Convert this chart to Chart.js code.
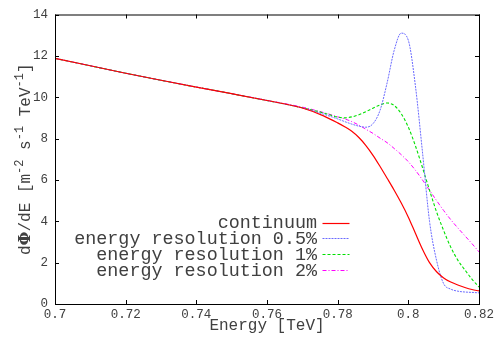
<!DOCTYPE html>
<html>
<head>
<meta charset="utf-8">
<script src="https://cdn.jsdelivr.net/npm/chart.js@4"></script>
<style>
  html, body { margin: 0; padding: 0; background: #fff; }
  #wrap { width: 501px; height: 341px; }
</style>
</head>
<body>
<div id="wrap"><canvas id="spectrum" width="501" height="341"></canvas></div>
<script>
// energy grid (TeV) and curves
const energy = [0.700, 0.710, 0.720, 0.730, 0.740, 0.750, 0.760, 0.770, 0.776, 0.780,
  0.782, 0.784, 0.786, 0.788, 0.790, 0.792, 0.794, 0.796, 0.798, 0.800,
  0.802, 0.804, 0.806, 0.808, 0.810, 0.812, 0.814, 0.816, 0.818, 0.820];

const continuum = [11.88, 11.52, 11.16, 10.82, 10.49, 10.17, 9.84, 9.48, 9.10, 8.76,
  8.57, 8.35, 8.05, 7.66, 7.19, 6.65, 6.08, 5.50, 4.88, 4.20,
  3.42, 2.65, 2.00, 1.56, 1.26, 1.06, 0.92, 0.80, 0.70, 0.63];

const res05 = [11.88, 11.52, 11.16, 10.82, 10.49, 10.17, 9.84, 9.48, 9.18, 8.95,
  8.82, 8.70, 8.60, 8.55, 8.72, 9.37, 10.70, 12.27, 13.10, 12.75,
  10.55, 7.35, 4.00, 2.10, 0.98, 0.72, 0.62, 0.58, 0.56, 0.54];

const res1 = [11.88, 11.52, 11.16, 10.82, 10.49, 10.17, 9.84, 9.49, 9.24, 9.04,
  9.00, 9.05, 9.15, 9.30, 9.47, 9.63, 9.72, 9.60, 9.20, 8.55,
  7.65, 6.60, 5.50, 4.45, 3.55, 2.75, 2.12, 1.65, 1.20, 0.82];

const res2 = [11.88, 11.52, 11.16, 10.82, 10.49, 10.17, 9.85, 9.52, 9.26, 9.05,
  8.95, 8.82, 8.65, 8.45, 8.25, 8.02, 7.80, 7.52, 7.22, 6.88,
  6.47, 6.00, 5.50, 5.00, 4.52, 4.08, 3.68, 3.30, 2.92, 2.52];

const xTicks = [0.7, 0.72, 0.74, 0.76, 0.78, 0.8, 0.82];
const yTicks = [0, 2, 4, 6, 8, 10, 12, 14];

const seriesNames = ["continuum", "energy resolution 0.5%", "energy resolution 1%", "energy resolution 2%"];

const mono = "'Liberation Mono', 'DejaVu Sans Mono', monospace";
const textColor = "#404040";

function pts(vals) {
  return energy.map((e, i) => ({ x: e, y: vals[i] }));
}

// gnuplot style frame with inward ticks on all sides
const framePlugin = {
  id: "frame",
  afterDraw(chart) {
    const { ctx, chartArea: a, scales } = chart;
    ctx.save();
    ctx.strokeStyle = "#000";
    ctx.lineWidth = 1;
    ctx.strokeRect(a.left + 0.5, a.top + 0.5, a.right - a.left, a.bottom - a.top);
    ctx.beginPath();
    const len = 4;
    xTicks.forEach(t => {
      const px = Math.round(scales.x.getPixelForValue(t)) + 0.5;
      ctx.moveTo(px, a.bottom); ctx.lineTo(px, a.bottom - len);
      ctx.moveTo(px, a.top); ctx.lineTo(px, a.top + len);
    });
    yTicks.forEach(t => {
      const py = Math.round(scales.y.getPixelForValue(t)) + 0.5;
      ctx.moveTo(a.left, py); ctx.lineTo(a.left + len, py);
      ctx.moveTo(a.right, py); ctx.lineTo(a.right - len, py);
    });
    ctx.stroke();
    ctx.restore();
  }
};

// axis titles (the y one needs superscripts)
const titlePlugin = {
  id: "titles",
  afterDraw(chart) {
    const { ctx, chartArea: a } = chart;
    ctx.save();
    ctx.fillStyle = textColor;
    ctx.font = "16px " + mono;
    ctx.textAlign = "center";
    ctx.textBaseline = "middle";
    ctx.fillText("Energy [TeV]", (a.left + a.right) / 2, 326);

    const parts = [
      ["d", 0], ["\u03A6", 0, true], ["/dE [m", 0], ["-2", 1], [" s", 0], ["-1", 1], [" TeV", 0], ["-1", 1], ["]", 0]
    ];
    const base = "16px " + mono, sup = "12px " + mono, bold = "bold 16px 'DejaVu Serif', serif";
    let total = 0;
    parts.forEach(p => {
      ctx.font = p[2] ? bold : (p[1] ? sup : base);
      total += ctx.measureText(p[0]).width;
    });
    ctx.translate(25, (a.top + a.bottom) / 2);
    ctx.rotate(-Math.PI / 2);
    ctx.textAlign = "left";
    ctx.textBaseline = "alphabetic";
    let x = -total / 2;
    parts.forEach(p => {
      ctx.font = p[2] ? bold : (p[1] ? sup : base);
      ctx.fillText(p[0], x, p[1] ? -2 : 5);
      x += ctx.measureText(p[0]).width;
    });
    ctx.restore();
  }
};

// legend: right aligned text with line sample on the right
const keyPlugin = {
  id: "key",
  afterDraw(chart) {
    const { ctx } = chart;
    const rows = [222.5, 238.3, 254.3, 270];
    ctx.save();
    ctx.font = "18.4px " + mono;
    ctx.textAlign = "right";
    ctx.textBaseline = "middle";
    chart.data.datasets.forEach((ds, i) => {
      const y = rows[i];
      ctx.fillStyle = textColor;
      ctx.fillText(ds.label, 317, y + 1);
      ctx.strokeStyle = ds.borderColor;
      ctx.lineWidth = ds.borderWidth;
      ctx.setLineDash(ds.borderDash || []);
      ctx.beginPath();
      ctx.moveTo(322.5, Math.round(y) + 0.5);
      ctx.lineTo(349.5, Math.round(y) + 0.5);
      ctx.stroke();
    });
    ctx.restore();
  }
};

const lineStyle = { fill: false, pointRadius: 0, cubicInterpolationMode: "monotone" };

new Chart(document.getElementById("spectrum"), {
  type: "line",
  data: {
    datasets: [
      { ...lineStyle, label: seriesNames[0], data: pts(continuum), borderColor: "#ff0000", borderWidth: 1.2 },
      { ...lineStyle, label: seriesNames[1], data: pts(res05), borderColor: "#6a6aff", borderWidth: 1, borderDash: [2, 1] },
      { ...lineStyle, label: seriesNames[2], data: pts(res1), borderColor: "#00e000", borderWidth: 1.1, borderDash: [3, 2] },
      { ...lineStyle, label: seriesNames[3], data: pts(res2), borderColor: "#ff00ff", borderWidth: 1, borderDash: [4, 2, 1, 2] }
    ]
  },
  options: {
    responsive: false,
    animation: false,
    layout: { padding: { left: 0, top: 8, right: 22, bottom: 0 } },
    plugins: { legend: { display: false }, tooltip: { enabled: false } },
    scales: {
      x: {
        type: "linear",
        min: 0.7, max: 0.82,
        afterBuildTicks: s => { s.ticks = xTicks.map(v => ({ value: v })); },
        afterFit: s => { s.height = 37; },
        grid: { display: false, drawTicks: false },
        border: { display: false },
        ticks: {
          padding: 3,
          color: textColor,
          font: { family: mono, size: 12.5 },
          maxRotation: 0,
          callback: v => String(parseFloat(v.toFixed(2)))
        }
      },
      y: {
        type: "linear",
        min: 0, max: 14,
        afterBuildTicks: s => { s.ticks = yTicks.map(v => ({ value: v })); },
        afterFit: s => { s.width = 55; },
        grid: { display: false, drawTicks: false },
        border: { display: false },
        ticks: {
          padding: 7,
          color: textColor,
          font: { family: mono, size: 12.5 }
        }
      }
    }
  },
  plugins: [framePlugin, titlePlugin, keyPlugin]
});
</script>
</body>
</html>
